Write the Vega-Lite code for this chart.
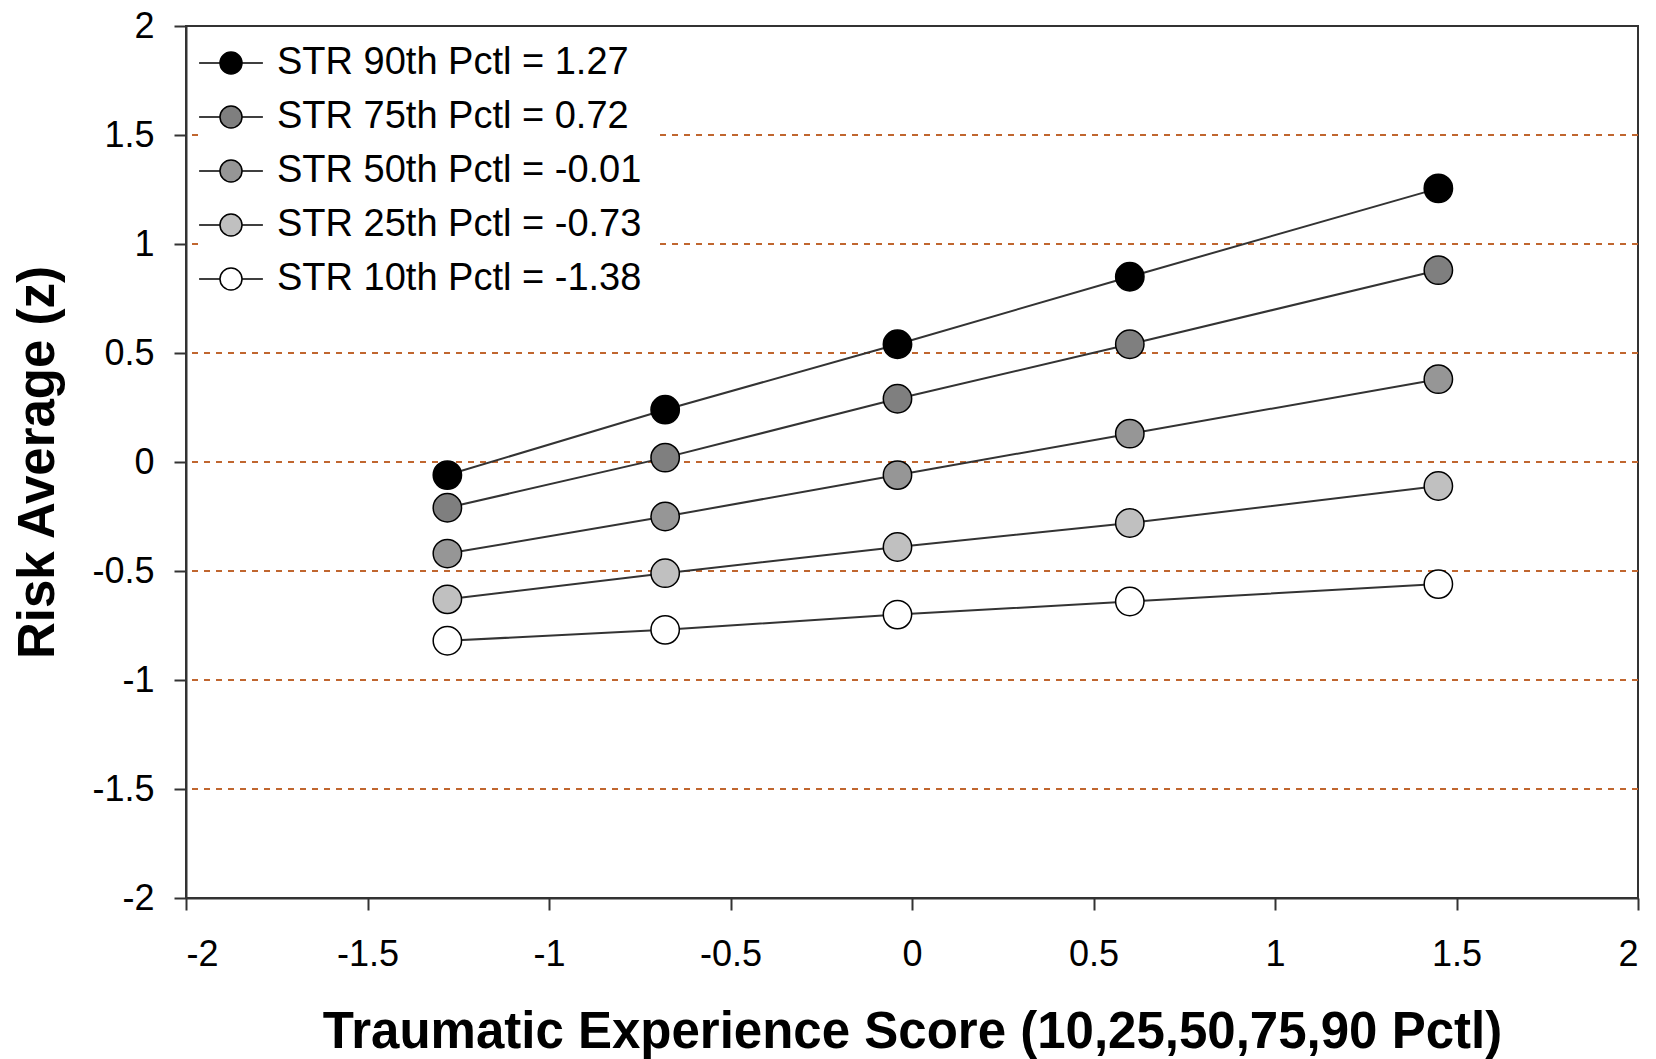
{
  "$schema": "https://vega.github.io/schema/vega-lite/v6.json",
  "width": 1452,
  "height": 872,
  "autosize": {"type": "none"},
  "padding": {"left": 186, "top": 26, "right": 18, "bottom": 161},
  "background": "white",
  "config": {
    "view": {"stroke": "#333333", "strokeWidth": 2},
    "font": "Liberation Sans",
    "axis": {
      "grid": false,
      "domainColor": "#333333",
      "domainWidth": 2,
      "tickColor": "#333333",
      "tickWidth": 2,
      "tickSize": 12,
      "labelFontSize": 36,
      "labelFont": "Liberation Sans",
      "labelColor": "black",
      "titleColor": "black"
    }
  },
  "datasets": {
    "grid": [
      {"y": -1.5}, {"y": -1}, {"y": -0.5}, {"y": 0}, {"y": 0.5}, {"y": 1}, {"y": 1.5}
    ],
    "pts": [
      {"series": "STR 90th Pctl = 1.27", "x": -1.28, "y": -0.06},
      {"series": "STR 90th Pctl = 1.27", "x": -0.68, "y": 0.24},
      {"series": "STR 90th Pctl = 1.27", "x": -0.04, "y": 0.54},
      {"series": "STR 90th Pctl = 1.27", "x": 0.6, "y": 0.85},
      {"series": "STR 90th Pctl = 1.27", "x": 1.45, "y": 1.255},
      {"series": "STR 75th Pctl = 0.72", "x": -1.28, "y": -0.21},
      {"series": "STR 75th Pctl = 0.72", "x": -0.68, "y": 0.02},
      {"series": "STR 75th Pctl = 0.72", "x": -0.04, "y": 0.29},
      {"series": "STR 75th Pctl = 0.72", "x": 0.6, "y": 0.54},
      {"series": "STR 75th Pctl = 0.72", "x": 1.45, "y": 0.88},
      {"series": "STR 50th Pctl = -0.01", "x": -1.28, "y": -0.42},
      {"series": "STR 50th Pctl = -0.01", "x": -0.68, "y": -0.25},
      {"series": "STR 50th Pctl = -0.01", "x": -0.04, "y": -0.06},
      {"series": "STR 50th Pctl = -0.01", "x": 0.6, "y": 0.13},
      {"series": "STR 50th Pctl = -0.01", "x": 1.45, "y": 0.38},
      {"series": "STR 25th Pctl = -0.73", "x": -1.28, "y": -0.63},
      {"series": "STR 25th Pctl = -0.73", "x": -0.68, "y": -0.51},
      {"series": "STR 25th Pctl = -0.73", "x": -0.04, "y": -0.39},
      {"series": "STR 25th Pctl = -0.73", "x": 0.6, "y": -0.28},
      {"series": "STR 25th Pctl = -0.73", "x": 1.45, "y": -0.11},
      {"series": "STR 10th Pctl = -1.38", "x": -1.28, "y": -0.82},
      {"series": "STR 10th Pctl = -1.38", "x": -0.68, "y": -0.77},
      {"series": "STR 10th Pctl = -1.38", "x": -0.04, "y": -0.70},
      {"series": "STR 10th Pctl = -1.38", "x": 0.6, "y": -0.64},
      {"series": "STR 10th Pctl = -1.38", "x": 1.45, "y": -0.56}
    ]
  },
  "layer": [
    {
      "data": {"name": "grid"},
      "mark": {"type": "rule", "color": "#c0662f", "strokeWidth": 2, "strokeDash": [6, 6]},
      "encoding": {
        "y": {
          "field": "y", "type": "quantitative",
          "scale": {"domain": [-2, 2], "nice": false, "zero": false},
          "axis": {
            "values": [-2, -1.5, -1, -0.5, 0, 0.5, 1, 1.5, 2],
            "labelExpr": "'' + datum.value",
            "labelPadding": 20,
            "title": "Risk Average (z)",
            "titleFontSize": 51,
            "titleFontWeight": "bold",
            "titleFont": "Liberation Sans",
            "titleAngle": -90,
            "titleX": -133,
            "titleY": 436,
            "titleBaseline": "alphabetic",
            "titleAlign": "center"
          }
        }
      }
    },
    {
      "data": {"name": "pts"},
      "mark": {"type": "line", "color": "#333333", "strokeWidth": 2},
      "encoding": {
        "x": {
          "field": "x", "type": "quantitative",
          "scale": {"domain": [-2, 2], "nice": false, "zero": false},
          "axis": {
            "values": [-2, -1.5, -1, -0.5, 0, 0.5, 1, 1.5, 2],
            "labelExpr": "'' + datum.value",
            "labelPadding": 27,
            "title": "Traumatic Experience Score (10,25,50,75,90 Pctl)",
            "titleFont": "Liberation Sans",
            "titleFontSize": 51,
            "titleFontWeight": "bold",
            "titleX": 726,
            "titleY": 149,
            "titleBaseline": "alphabetic",
            "titleAlign": "center"
          }
        },
        "y": {"field": "y", "type": "quantitative"},
        "detail": {"field": "series", "type": "nominal"}
      }
    },
    {
      "data": {"name": "pts"},
      "mark": {"type": "point", "shape": "circle", "filled": true, "size": 804, "stroke": "black", "strokeWidth": 1.5, "opacity": 1},
      "encoding": {
        "x": {"field": "x", "type": "quantitative"},
        "y": {"field": "y", "type": "quantitative"},
        "fill": {
          "field": "series", "type": "nominal",
          "scale": {
            "domain": ["STR 90th Pctl = 1.27", "STR 75th Pctl = 0.72", "STR 50th Pctl = -0.01", "STR 25th Pctl = -0.73", "STR 10th Pctl = -1.38"],
            "range": ["#000000", "#7f7f7f", "#969696", "#c0c0c0", "#ffffff"]
          },
          "legend": {
            "orient": "none",
            "legendX": 14,
            "legendY": 6,
            "title": null,
            "labelFontSize": 38,
            "labelFont": "Liberation Sans",
            "labelColor": "black",
            "labelLimit": 1000,
            "labelOffset": 27,
            "rowPadding": 16,
            "padding": 12,
            "fillColor": "white",
            "symbolType": "M-2.9,0L-1,0M1,0L2.9,0M-1,0A1,1,0,1,0,1,0A1,1,0,1,0,-1,0Z",
            "symbolSize": 484,
            "symbolStrokeColor": "#000000",
            "symbolStrokeWidth": 1.5,
            "symbolOpacity": 1
          }
        }
      }
    }
  ]
}
